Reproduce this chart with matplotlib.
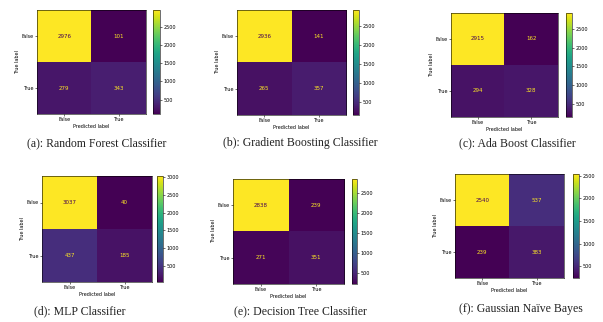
import numpy as np
import matplotlib.pyplot as plt

# confusion matrices: [[TN, FP], [FN, TP]]
rf = [[2976, 101], [279, 343]]
gb = [[2936, 141], [265, 357]]
ada = [[2915, 162], [294, 328]]
mlp = [[3037, 40], [437, 185]]
dt = [[2838, 239], [271, 351]]
gnb = [[2540, 537], [239, 383]]

class_labels = ["False", "True"]
captions = [
    "(a): Random Forest Classifier",
    "(b): Gradient Boosting Classifier",
    "(c): Ada Boost Classifier",
    "(d): MLP Classifier",
    "(e): Decision Tree Classifier",
    "(f): Gaussian Naïve Bayes",
]
cbar_ticks_a = [500, 1000, 1500, 2000, 2500]
cbar_ticks_d = [500, 1000, 1500, 2000, 2500, 3000]

W, H = 603, 322

# pixel boxes (left, top, right, bottom) for heatmap, colorbar, caption centre
PANELS = [
    (rf, (37, 10, 146, 114), (153, 10, 160, 114), (97, 143), cbar_ticks_a),
    (gb, (237, 10, 346, 115), (353, 10, 359, 115), (300, 143), cbar_ticks_a),
    (ada, (451, 13, 558, 117), (566, 13, 572, 117), (517, 143), cbar_ticks_a),
    (mlp, (42, 176, 152, 282), (157, 176, 163, 282), (80, 311), cbar_ticks_d),
    (dt, (233, 179, 344, 284), (352, 179, 357, 284), (300, 311), cbar_ticks_a),
    (gnb, (455, 174, 564, 278), (573, 174, 579, 278), (521, 309), cbar_ticks_a),
]


def px_box(box):
    l, t, r, b = box
    return [l / W, 1 - b / H, (r - l) / W, (b - t) / H]


def draw_cm(fig, cm, ax_box, cb_box, ticks):
    cm = np.array(cm)
    ax = fig.add_axes(px_box(ax_box))
    cax = fig.add_axes(px_box(cb_box))
    cmap = plt.get_cmap("viridis")
    im = ax.imshow(cm, cmap=cmap, aspect="auto")
    thresh = (cm.max() + cm.min()) / 2.0
    for i in range(2):
        for j in range(2):
            col = cmap(0.0) if cm[i, j] > thresh else cmap(1.0)
            ax.text(j, i, str(cm[i, j]), ha="center", va="center",
                    color=col, fontsize=4)
    ax.set_xticks([0, 1], class_labels, fontsize=3.5)
    ax.set_yticks([0, 1], class_labels, fontsize=3.5)
    ax.set_xlabel("Predicted label", fontsize=3.5, labelpad=1)
    ax.set_ylabel("True label", fontsize=3.5, labelpad=1)
    ax.tick_params(length=1.5, width=0.4, pad=1)
    for s in ax.spines.values():
        s.set_linewidth(0.4)
    cb = fig.colorbar(im, cax=cax)
    cb.set_ticks(ticks)
    cb.ax.tick_params(labelsize=3.5, length=1.5, width=0.4, pad=1)
    cb.outline.set_linewidth(0.4)


fig = plt.figure(figsize=(W / 100, H / 100), dpi=100)
for cm, ax_box, cb_box, cap, ticks in PANELS:
    draw_cm(fig, cm, ax_box, cb_box, ticks)

for (cm, ax_box, cb_box, cap, ticks), text in zip(PANELS, captions):
    fig.text(cap[0] / W, 1 - cap[1] / H, text, ha="center", va="center",
             fontsize=8.5, family="Liberation Serif", color="#222222")

fig.savefig("out.png", dpi=100, facecolor="white")
